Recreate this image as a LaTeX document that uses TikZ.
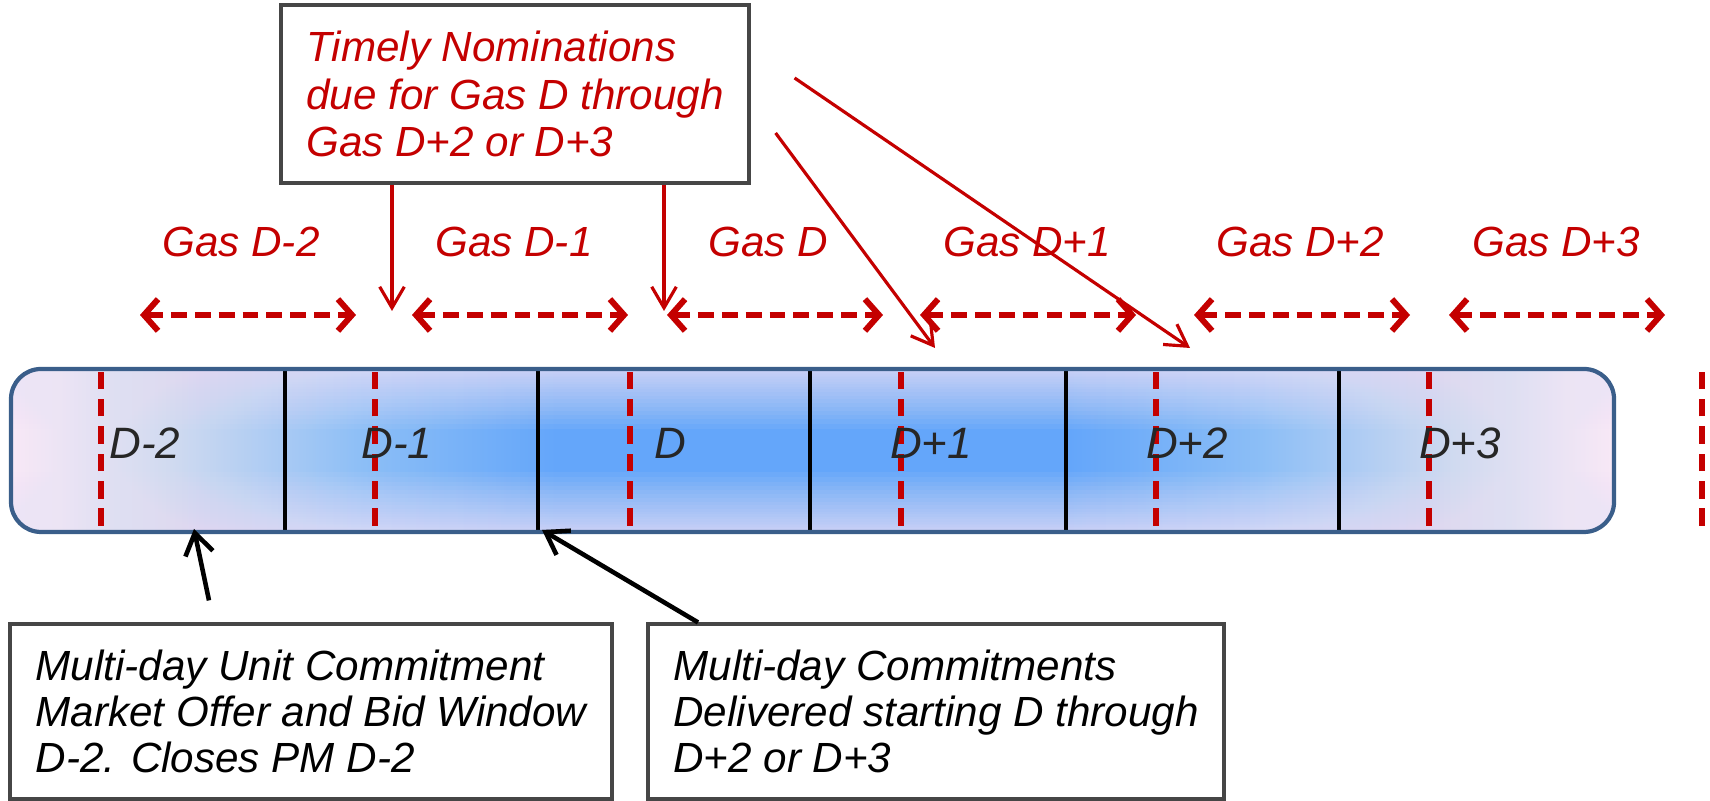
\documentclass[tikz,border=0pt]{standalone}
\usepackage{fontspec}
\setmainfont{Liberation Sans}
\usepackage{tikz}
\usetikzlibrary{arrows.meta}
\definecolor{gasred}{RGB}{196, 0, 0}
\definecolor{barline}{RGB}{58, 94, 138}
\definecolor{barpink}{RGB}{248, 232, 246}
\definecolor{barlight}{RGB}{208, 218, 240}
\definecolor{barmid}{RGB}{140, 190, 246}
\definecolor{barblue}{RGB}{100, 166, 250}
\definecolor{barlav}{RGB}{236, 228, 246}
\definecolor{boxline}{RGB}{70, 70, 70}

\pgfdeclarehorizontalshading{barshade}{100bp}{color(0bp)=(barpink); color(25bp)=(barpink); color(30bp)=(barlight); color(36bp)=(barmid); color(42bp)=(barblue); color(58bp)=(barblue); color(64bp)=(barmid); color(70bp)=(barlight); color(75bp)=(barpink); color(100bp)=(barpink)}

\tikzset{
  daydiv/.style={black, line width=1.1pt},
  gasdash/.style={gasred, line width=1.6pt, dash pattern=on 5pt off 2.8pt},
  daylabel/.style={font=\fontsize{12.5}{15}\selectfont\itshape, text=black!85, inner sep=0pt},
  gaslabel/.style={font=\fontsize{12}{14}\selectfont\itshape, text=gasred, inner sep=0pt},
  gasspan/.style={gasred, line width=1.7pt, dash pattern=on 4.5pt off 2.3pt,
    {Straight Barb[length=4pt, width=9pt]}-{Straight Barb[length=4pt, width=9pt]}},
  nomarrow/.style={gasred, line width=0.9pt, -{Straight Barb[length=6pt, width=7pt]}},
  callout/.style={black, line width=1.3pt, -{Straight Barb[length=6pt, width=8pt]}},
  notebox/.style={draw=boxline, line width=0.9pt, fill=white, align=left, inner sep=0pt,
    font=\fontsize{12}{13.2}\selectfont\itshape}
}

\begin{document}
\begin{tikzpicture}[scale=1]
  \useasboundingbox (0, 0) rectangle (17.1, 8.01);

  \shade[shading=barshade, rounded corners=0.3cm] (0.11, 2.69) rectangle (16.14, 4.32);
  \begin{scope}
    \clip[rounded corners=0.3cm] (0.11, 2.69) rectangle (16.14, 4.32);
    \foreach \n in {1, 2, ..., 24} {
      \pgfmathsetmacro{\dep}{0.6 * (\n / 24)^2};
      \fill[barlav, opacity=0.07] (0.11, 4.32 - \dep) rectangle (16.14, 4.32);
      \fill[barlav, opacity=0.07] (0.11, 2.69) rectangle (16.14, 2.69 + \dep);
    }
  \end{scope}

  \foreach \x in {2.85, 5.38, 8.10, 10.66, 13.39} {
    \draw[daydiv] (\x, 2.69) -- (\x, 4.32);
  }
  \foreach \x in {1.01, 3.75, 6.30, 9.01, 11.56, 14.29, 17.02} {
    \draw[gasdash] (\x, 2.75) -- (\x, 4.29);
  }

  \node[draw=barline, line width=1.2pt, rounded corners=0.3cm, minimum width=16.03cm,
    minimum height=1.63cm, inner sep=0pt] (bar) at (8.125, 3.505) {};

  \foreach \x/\day [count=\i] in {1.45/D-2, 3.97/D-1, 6.70/D, 9.31/D+1, 11.87/D+2, 14.60/D+3} {
    \node[daylabel] (day\i) at (\x, 3.58) {\day};
  }

  \foreach \lx/\ax/\day [count=\i] in {2.41/2.48/D-2, 5.14/5.20/D-1, 7.68/7.75/D,
      10.27/10.28/D+1, 13.00/13.02/D+2, 15.56/15.57/D+3} {
    \node[gaslabel] (gas\i) at (\lx, 5.59) {Gas \day};
    \coordinate (spanl\i) at (\ax - 1.08, 4.86);
    \coordinate (spanr\i) at (\ax + 1.08, 4.86);
    \draw[gasspan] (spanl\i) -- (spanr\i);
  }

  \node[notebox, text=gasred, minimum width=4.68cm, minimum height=1.78cm,
    font=\fontsize{12}{13.4}\selectfont\itshape] (nom) at (5.15, 7.07)
    {Timely Nominations\\due for Gas D through\\Gas D+2 or D+3};

  \coordinate (tip1) at (3.92, 4.90);
  \coordinate (tip2) at (6.64, 4.90);
  \coordinate (tip3) at (9.35, 4.53);
  \coordinate (tip4) at (11.90, 4.53);
  \draw[nomarrow] (nom.south -| tip1) -- (tip1);
  \draw[nomarrow] (nom.south -| tip2) -- (tip2);
  \draw[nomarrow] ([shift={(0.25, -0.39)}]nom.east) -- (tip3);
  \draw[nomarrow] ([shift={(0.44, 0.16)}]nom.east) -- (tip4);

  \node[notebox, minimum width=6.02cm, minimum height=1.75cm] (offer) at (3.11, 0.895)
    {Multi-day Unit Commitment\\Market Offer and Bid Window\\D-2. Closes PM D-2};
  \node[notebox, minimum width=5.76cm, minimum height=1.75cm] (deliv) at (9.36, 0.895)
    {Multi-day Commitments\\Delivered starting D through\\D+2 or D+3};

  \coordinate (offertip) at (1.94, 2.72);
  \coordinate (delivtip) at (5.42, 2.71);
  \draw[callout] ([shift={(-1.02, 0.22)}]offer.north) -- (offertip);
  \draw[callout] ([xshift=-2.38cm]deliv.north) -- (delivtip);
\end{tikzpicture}
\end{document}
